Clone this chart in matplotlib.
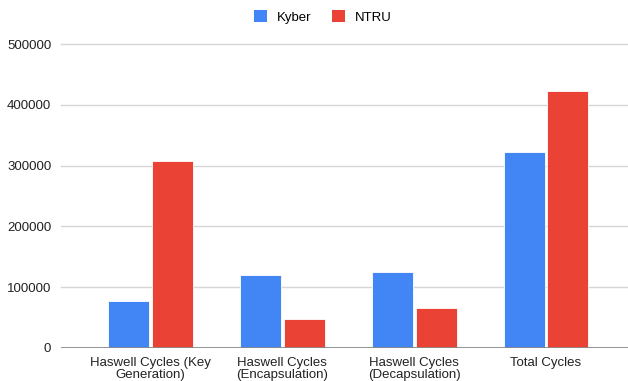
import matplotlib
matplotlib.use("Agg")
import matplotlib.pyplot as plt
import numpy as np
from matplotlib.patches import Patch

plt.rcParams['font.family'] = ['Liberation Sans', 'DejaVu Sans']

categories = ["Haswell Cycles (Key\nGeneration)", "Haswell Cycles\n(Encapsulation)",
              "Haswell Cycles\n(Decapsulation)", "Total Cycles"]
kyber = [77300, 119600, 124500, 322400]
ntru = [308000, 48200, 66300, 423200]
series_names = ["Kyber", "NTRU"]
yticks = [0, 100000, 200000, 300000, 400000, 500000]

blue = "#4285F4"
red = "#EA4335"
fs = 9.5

fig = plt.figure(figsize=(6.28, 3.81), dpi=100)
ax = fig.add_axes([61 / 628, 33 / 381, 567 / 628, 304 / 381])

x = np.arange(len(categories))
w = 0.311
off = 0.166
ax.bar(x - off, kyber, width=w, color=blue, edgecolor="white", linewidth=0.6, zorder=3)
ax.bar(x + off, ntru, width=w, color=red, edgecolor="white", linewidth=0.6, zorder=3)

ax.set_xlim(-0.679, 3.622)
ax.set_ylim(0, 500000)
ax.set_yticks(yticks)
ax.set_yticklabels([str(v) for v in yticks], fontsize=fs, color="#222222")
ax.set_xticks(x)
ax.set_xticklabels(categories, fontsize=fs, color="#222222", linespacing=1.05)
ax.tick_params(axis="y", length=0, pad=7)
ax.tick_params(axis="x", length=0, pad=6.5)

for v in yticks[1:]:
    ax.axhline(v, color="#d6d6d6", linewidth=1.0, zorder=1, clip_on=False)
ax.axhline(0, color="#8a8a8a", linewidth=1.3, zorder=4)

for s in ax.spines.values():
    s.set_visible(False)

handles = [Patch(facecolor=blue, edgecolor="none"), Patch(facecolor=red, edgecolor="none")]
fig.legend(handles, series_names, loc="center", bbox_to_anchor=(323 / 628, 1 - 17 / 381),
           ncol=2, frameon=False, fontsize=fs, handlelength=0.95, handleheight=0.95,
           handletextpad=0.75, columnspacing=1.6)

fig.savefig("out.png", dpi=100, facecolor="white")
